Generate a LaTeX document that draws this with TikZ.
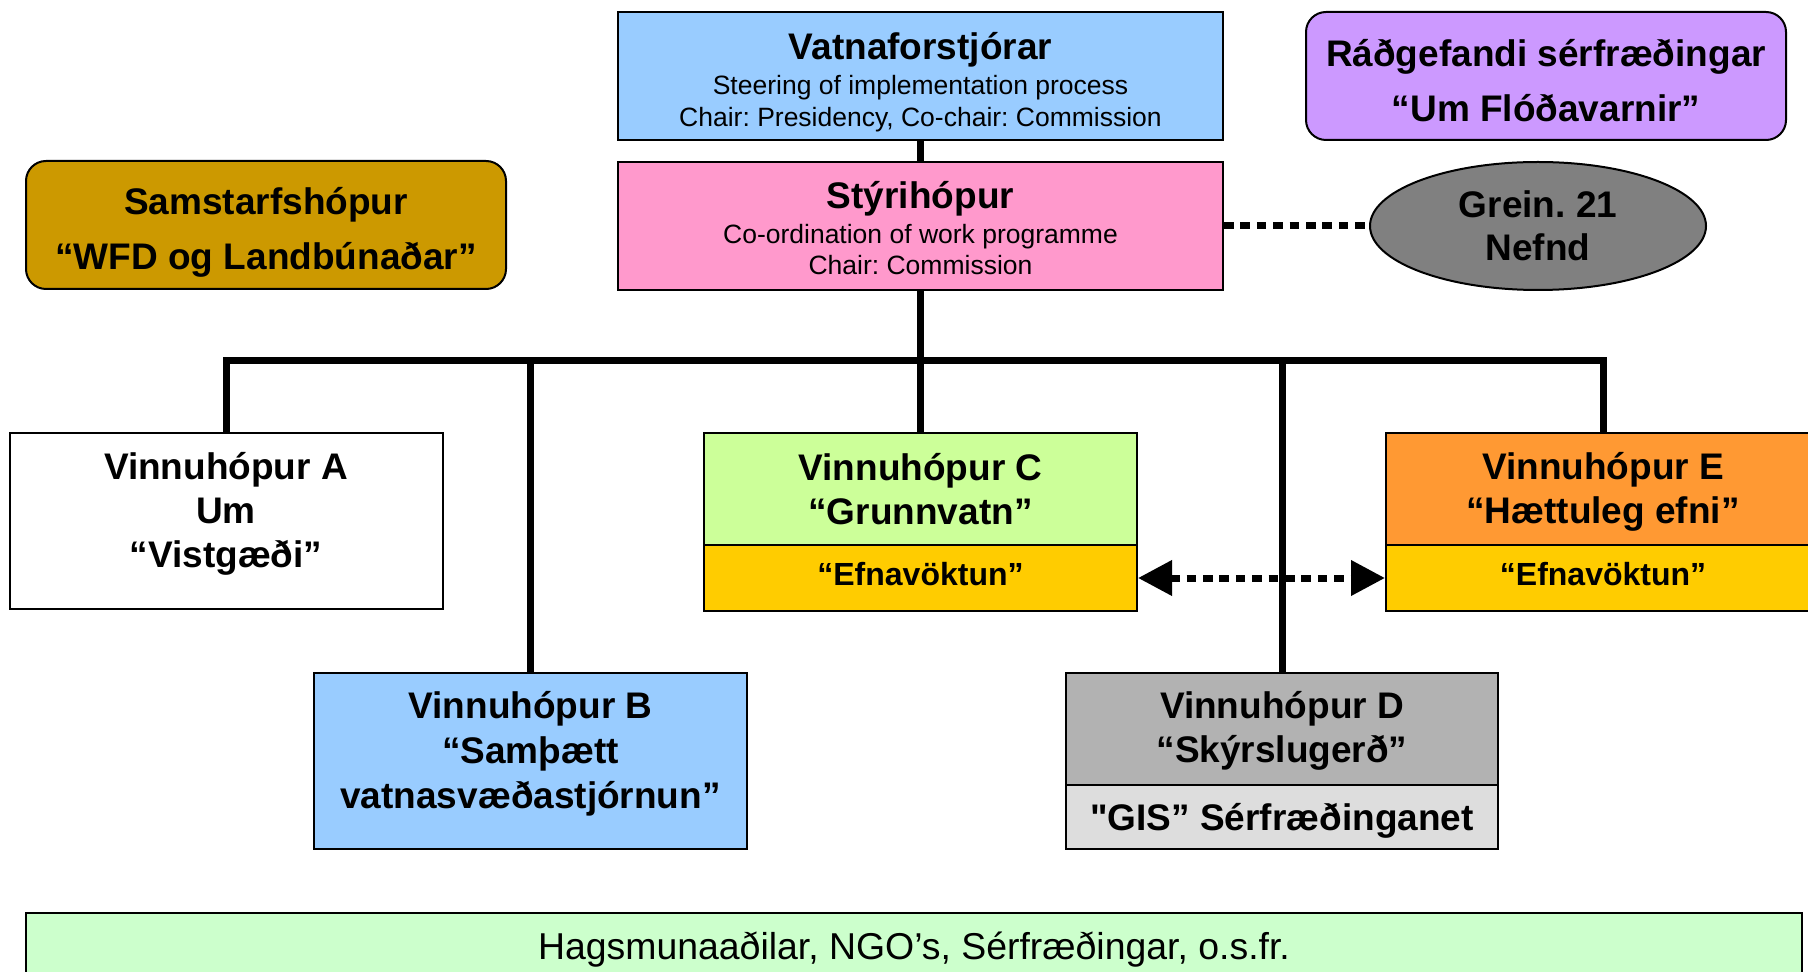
\documentclass[tikz,border=0pt]{standalone}
\usepackage{fontspec}
\setmainfont{Liberation Sans}[Ligatures=TeXOff]
\usetikzlibrary{shapes.geometric,arrows.meta}
\frenchspacing

\definecolor{vatnblue}{HTML}{99CCFF}
\definecolor{styripink}{HTML}{FF99CC}
\definecolor{samgold}{HTML}{CC9900}
\definecolor{radlilac}{HTML}{CC99FF}
\definecolor{greingray}{HTML}{808080}
\definecolor{grnlime}{HTML}{CCFF99}
\definecolor{efnyellow}{HTML}{FFCC00}
\definecolor{haetorange}{HTML}{FF9933}
\definecolor{skyrgray}{HTML}{B2B2B2}
\definecolor{gislight}{HTML}{DDDDDD}
\definecolor{hagsgreen}{HTML}{CCFFCC}

\newcommand\titlef{\fontsize{18.5}{22}\selectfont\bfseries}
\newcommand\widef{\fontsize{18.5}{27.5}\selectfont\bfseries}
\newcommand\subf{\fontsize{13.25}{15.9}\selectfont}
\newcommand\efnf{\fontsize{16}{19}\selectfont\bfseries}
\newcommand\plainf{\fontsize{18.7}{22}\selectfont}
\newcommand\hstrut[1]{\rule{0pt}{#1}}
\newcommand\dstrut[1]{\rule[-#1]{0pt}{#1}}

\begin{document}
\frenchspacing
\begin{tikzpicture}[x=0.5pt,y=-0.5pt]
        \tikzstyle{grp}=[rectangle,draw=black,line width=1pt,inner sep=0pt,align=center,font=\titlef]
        \tikzstyle{rgrp}=[grp,rounded corners=10pt]
        \tikzstyle{link}=[draw,line width=3.5pt]
        \tikzstyle{dotlink}=[draw,line width=3.5pt,dash pattern=on 4.8pt off 3.4pt]
       \useasboundingbox (0,0) rectangle (1808,972);
       \clip (0,0) rectangle (1808,972);
       \begin{scope}
         % top row
         \node [grp,fill=vatnblue,minimum width=302.5pt,minimum height=64pt,font=\subf] (vatna) at (920.5,76) {\hstrut{19.75pt}{\titlef Vatnaforstjórar}\\[1.25pt]Steering of implementation process\\Chair: Presidency, Co-chair: Commission};
         \node [grp,fill=styripink,minimum width=302.5pt,minimum height=64pt,font=\subf] (styri) at (920.5,226) {\hstrut{15.7pt}{\titlef Stýrihópur}\\[1.6pt]Co-ordination of work programme\\Chair: Commission};
         \node [rgrp,fill=samgold,minimum width=240pt,minimum height=64pt,font=\widef] (samst) at (266,225) {\hstrut{21.4pt}Samstarfshópur\\“WFD og Landbúnaðar”};
         \node [rgrp,fill=radlilac,minimum width=240pt,minimum height=64pt,font=\widef] (radg) at (1546,76) {\hstrut{17.8pt}Ráðgefandi sérfræðingar\\“Um Flóðavarnir”};
         \node [ellipse,draw=black,line width=1pt,fill=greingray,minimum width=168pt,minimum height=64pt,inner sep=0pt,align=center,font=\titlef] (grein) at (1538,226) {Grein. 21\\[-0.3pt]Nefnd};

         % working groups
         \node [grp,fill=white,minimum width=216.5pt,minimum height=88pt] (vA) at (226,521) {Vinnuhópur A\\Um\\“Vistgæði”\dstrut{10.7pt}};
         \node [grp,fill=vatnblue,minimum width=216.25pt,minimum height=88pt] (vB) at (530.5,761) {Vinnuhópur B\\[0.5pt]“Samþætt\\[0.5pt]vatnasvæðastjórnun”\dstrut{11.05pt}};
         \node [grp,fill=grnlime,minimum width=216.5pt,minimum height=56pt] (vC) at (920.5,489) {Vinnuhópur C\\“Grunnvatn”};
         \node [grp,fill=efnyellow,minimum width=216.5pt,minimum height=33pt,font=\efnf] (vCe) at (920.5,578) {“Efnavöktun”\dstrut{3.7pt}};
         \node [grp,fill=skyrgray,minimum width=216pt,minimum height=56pt] (vD) at (1282,729) {\hstrut{15.5pt}Vinnuhópur D\\“Skýrslugerð”};
         \node [grp,fill=gislight,minimum width=216pt,minimum height=32pt] (vDg) at (1282,817) {\hstrut{17.9pt}"GIS” Sérfræðinganet};
         \node [grp,fill=haetorange,minimum width=217pt,minimum height=56pt] (vE) at (1603,489) {\hstrut{16.9pt}Vinnuhópur E\\“Hættuleg efni”};
         \node [grp,fill=efnyellow,minimum width=217pt,minimum height=33pt,font=\efnf] (vEe) at (1603,578) {“Efnavöktun”\dstrut{3.7pt}};

         \node [grp,fill=hagsgreen,minimum width=888pt,minimum height=36.5pt,font=\plainf] (hags) at (914,949.5) {Hagsmunaaðilar, NGO’s, Sérfræðingar, o.s.fr.};

         \coordinate (bus) at (920.5,361);
         \path[link] (vatna) -- (styri);
         \path[link] (styri) -- (bus);
         \path[link] (bus) -| (vA);
         \path[link] (bus) -| (vB);
         \path[link] (bus) -- (vC);
         \path[link] (bus) -| (vD);
         \path[link] (bus) -| (vE);
         \path[dotlink] (styri) -- (grein);
         \path[dotlink,{Triangle[length=17pt,width=17pt]}-{Triangle[length=17pt,width=17pt]}] (vCe) -- (vEe);
        \end{scope}
\end{tikzpicture}
\end{document}
